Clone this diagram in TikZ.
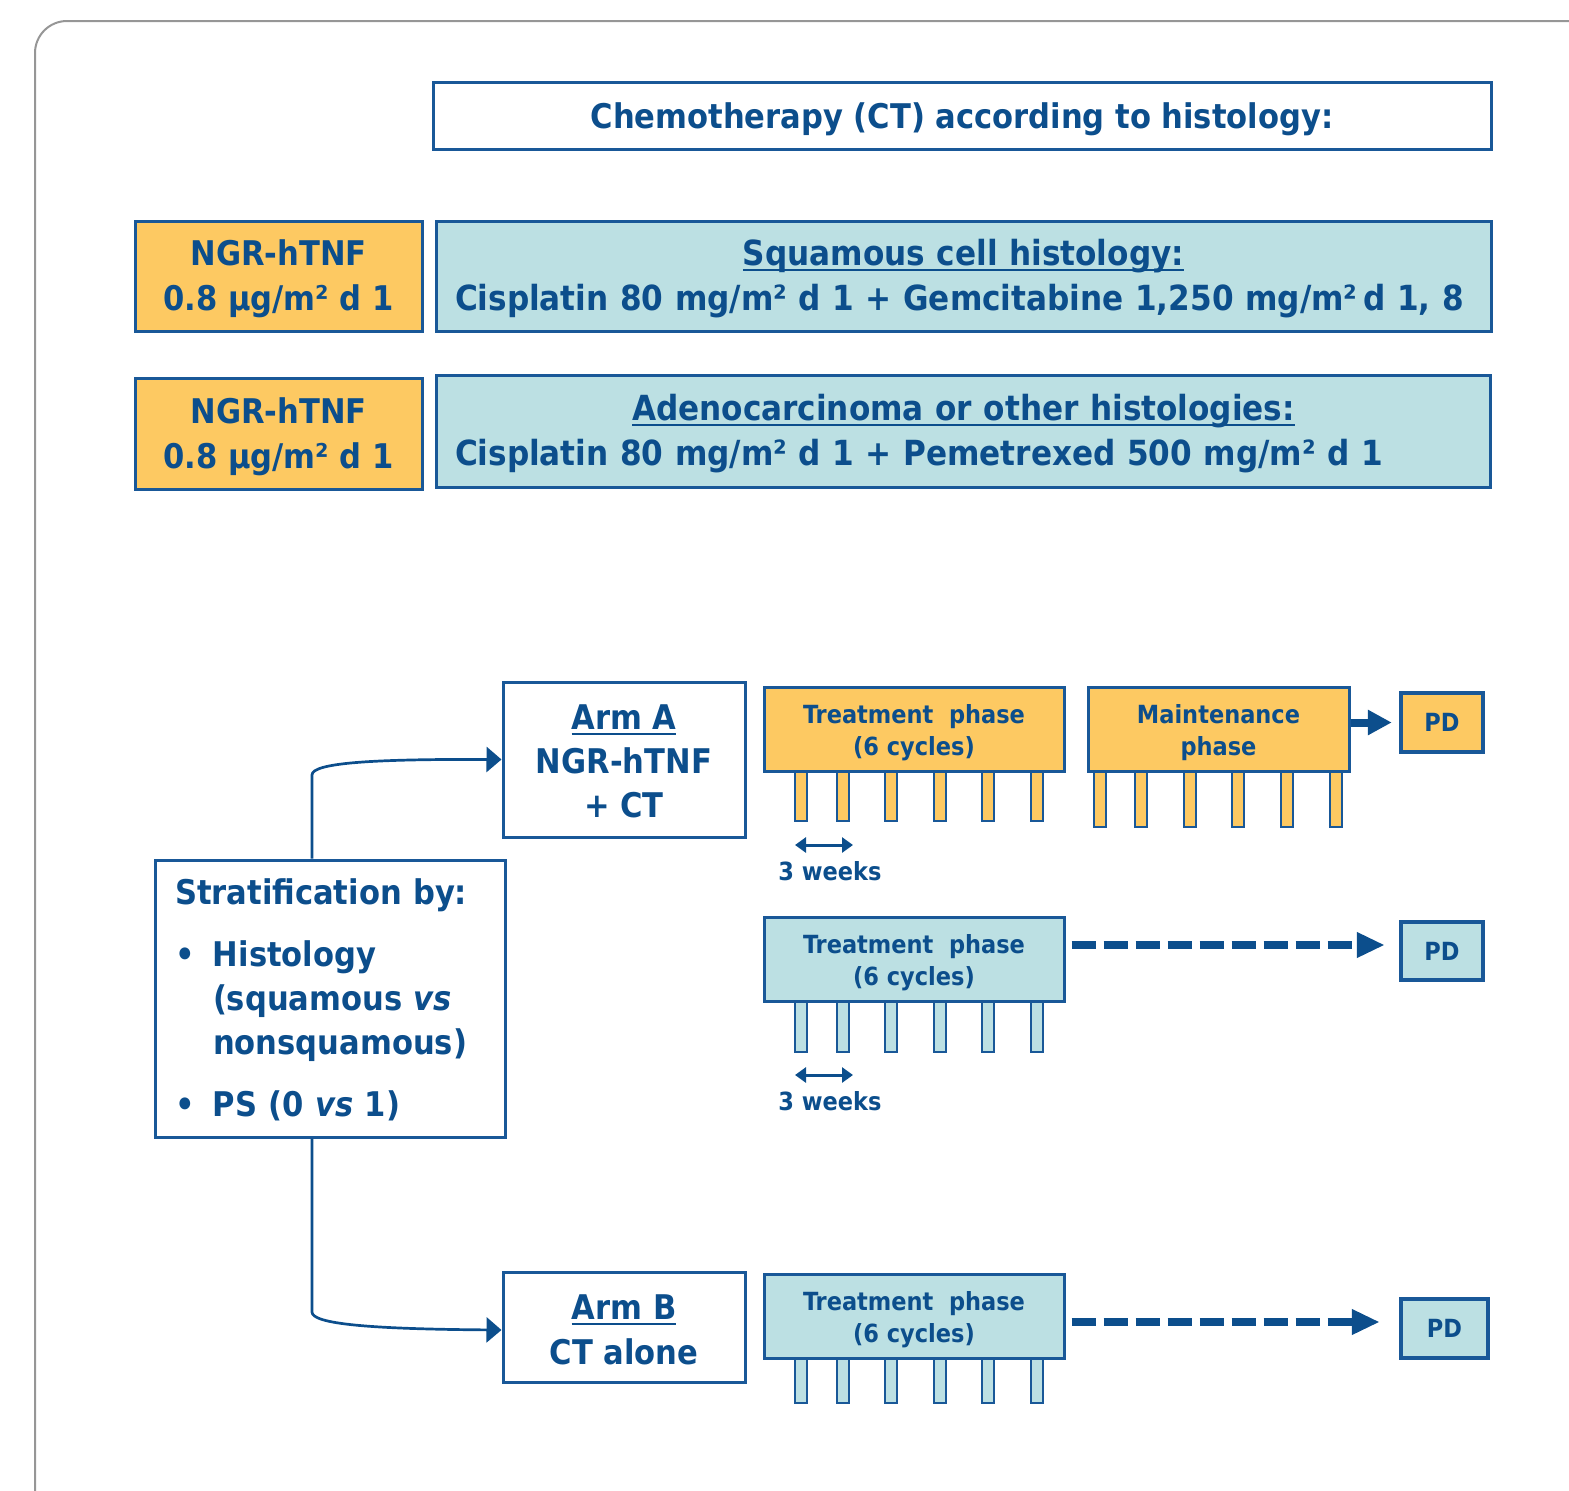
\documentclass[tikz,border=0pt]{standalone}
\usepackage{fontspec}
\setmainfont{DejaVu Sans Condensed}
\usetikzlibrary{arrows.meta}
\definecolor{navy}{RGB}{12,78,140}
\definecolor{bord}{RGB}{25,88,152}
\definecolor{orng}{RGB}{253,201,98}
\definecolor{cyanfill}{RGB}{188,224,227}
\definecolor{framegray}{RGB}{150,150,150}
% underline sitting just below the baseline
\newcommand\ulin[1]{\setbox0=\hbox{#1}\rlap{\rule[-5pt]{\wd0}{2.2pt}}\box0}
% invisible struts that lower a text block inside its box
\newcommand\tallA{\rule{0pt}{32pt}}
\newcommand\tallB{\rule{0pt}{27pt}}
\begin{document}
\begin{tikzpicture}[x=1pt,y=-1pt,
  box/.style={draw=bord, line width=3pt, inner sep=0pt, text=navy, align=center,
    font=\bfseries\fontsize{34}{45}\selectfont},
  orangebox/.style={box, fill=orng},
  cyanbox/.style={box, fill=cyanfill, font=\bfseries\fontsize{34.6}{45}\selectfont},
  whitebox/.style={box, fill=white},
  phasebox/.style={box, font=\bfseries\fontsize{25}{32}\selectfont},
  pdbox/.style={box, line width=4.5pt, font=\bfseries\fontsize{25}{30}\selectfont},
  bar/.style={draw=bord, line width=1.2pt},
  conn/.style={draw=navy, line width=2.7pt, -{Triangle[length=15pt,width=25pt]}},
  thick arrow/.style={draw=navy, line width=8pt, -{Triangle[length=24pt,width=24pt]}},
  dash arrow/.style={draw=navy, line width=7.5pt, dash pattern=on 24pt off 8pt,
    -{Triangle[length=28pt,width=24pt]}},
  span/.style={draw=navy, line width=3pt, {Triangle[length=11pt,width=15pt]}-{Triangle[length=11pt,width=15pt]}},
  weeks/.style={text=navy, font=\bfseries\fontsize{25}{30}\selectfont, inner sep=0pt}]
\useasboundingbox (0,0) rectangle (1569,1491);

% outer rounded frame, cut by the page edges
\begin{scope}
  \clip (0,0) rectangle (1569,1491);
  \draw[framegray, line width=2pt, rounded corners=32pt] (35,21) rectangle (1700,1520);
\end{scope}

% regimen header and rows
\node[whitebox, minimum width=1058pt, minimum height=67pt] (title) at (962,115.5)
  {\rule{0pt}{34pt}Chemotherapy (CT) according to histology:};

\node[orangebox, minimum width=287pt, minimum height=110pt] (ngra) at (278.5,276)
  {\tallA NGR-hTNF\\0.8 µg/m² d 1};
\node[cyanbox, minimum width=1055pt, minimum height=110pt, text width=1017pt, align=left] (squam) at (963.5,276)
  {\makebox[1017pt]{\tallA\ulin{Squamous cell histology:}}\\Cisplatin 80 mg/m² d 1 + Gemcitabine 1,250 mg/m²\,d 1, 8};

\node[orangebox, minimum width=287pt, minimum height=111pt] (ngrb) at (278.5,433.5)
  {\tallA NGR-hTNF\\0.8 µg/m² d 1};
\node[cyanbox, minimum width=1054pt, minimum height=112pt, text width=1017pt, align=left] (adeno) at (963.5,431)
  {\makebox[1017pt]{\tallA\ulin{Adenocarcinoma or other histologies:}}\\Cisplatin 80 mg/m² d 1 + Pemetrexed 500 mg/m² d 1};

% cycle bars (drawn first so the phase boxes cover their tops)
\foreach \x in {801,843,891,940,988,1037} {
  \filldraw[bar, fill=orng] (\x-6,765) rectangle (\x+6,821);
  \filldraw[bar, fill=cyanfill] (\x-6,995) rectangle (\x+6,1052);
  \filldraw[bar, fill=cyanfill] (\x-6,1352) rectangle (\x+6,1403);
}
\foreach \x in {1100,1141,1190,1238,1287,1336}
  \filldraw[bar, fill=orng] (\x-6,765) rectangle (\x+6,827);

% arms and stratification
\node[whitebox, minimum width=242pt, minimum height=155pt, font=\bfseries\fontsize{34}{44}\selectfont] (arma) at (624,759.5)
  {\rule{0pt}{29pt}\ulin{Arm A}\\NGR-hTNF\\+ CT};
\node[whitebox, minimum width=242pt, minimum height=110pt] (armb) at (624,1327)
  {\rule{0pt}{31pt}\ulin{Arm B}\\CT alone};

\node[whitebox, minimum width=350pt, minimum height=277pt, align=left,
  text width=310pt, inner xsep=20pt, font=\bfseries\fontsize{34}{44}\selectfont] (strat) at (330,998.5)
  {\rule{0pt}{28pt}Stratification by:\\[18pt]
   \makebox[38pt][l]{\textbullet}Histology\\
   \hspace*{38pt}(squamous \textit{vs}\\
   \hspace*{38pt}nonsquamous)\\[18pt]
   \makebox[38pt][l]{\textbullet}PS (0 \textit{vs} 1)};

% treatment phases
\node[phasebox, fill=orng, minimum width=300pt, minimum height=84pt] (treata) at (914,729)
  {\tallB Treatment~~phase\\(6 cycles)};
\node[phasebox, fill=orng, minimum width=261pt, minimum height=84pt] (maint) at (1218.5,729)
  {\tallB Maintenance\\phase};
\node[phasebox, fill=cyanfill, minimum width=300pt, minimum height=84pt] (treatm) at (914,959)
  {\tallB Treatment~~phase\\(6 cycles)};
\node[phasebox, fill=cyanfill, minimum width=300pt, minimum height=84pt] (treatb) at (914,1316)
  {\tallB Treatment~~phase\\(6 cycles)};

% progression boxes
\node[pdbox, fill=orng, minimum width=82pt, minimum height=59pt] (pda) at (1442,722.5) {PD};
\node[pdbox, fill=cyanfill, minimum width=82pt, minimum height=58pt] (pdm) at (1442,951) {PD};
\node[pdbox, fill=cyanfill, minimum width=87pt, minimum height=59pt] (pdb) at (1444.5,1328.5) {PD};

% cycle length markers
\coordinate (wa1) at (795,845);
\coordinate (wa2) at (853,845);
\draw[span] (wa1) -- (wa2);
\node[weeks] (weeksa) at (830,871) {3 weeks};
\coordinate (wm1) at (795,1075);
\coordinate (wm2) at (853,1075);
\draw[span] (wm1) -- (wm2);
\node[weeks] (weeksm) at (830,1101) {3 weeks};

% randomisation connectors
\draw[conn] (strat.north -| 312,0) -- (312,775)
  .. controls (312,763) and (370,759) .. (arma.west);
\draw[conn] (strat.south -| 312,0) -- (312,1312)
  .. controls (312,1324) and (370,1329) .. (armb.west |- 0,1330);

% flow to progression
\draw[thick arrow, shorten >=7pt] (maint.east |- pda.west) -- (pda.west);
\draw[dash arrow, shorten <=6pt, shorten >=14pt] (treatm.east |- 0,945) -- (pdm.west |- 0,945);
\draw[dash arrow, shorten <=6pt, shorten >=19pt] (treatb.east |- 0,1322) -- (pdb.west |- 0,1322);
\end{tikzpicture}
\end{document}
